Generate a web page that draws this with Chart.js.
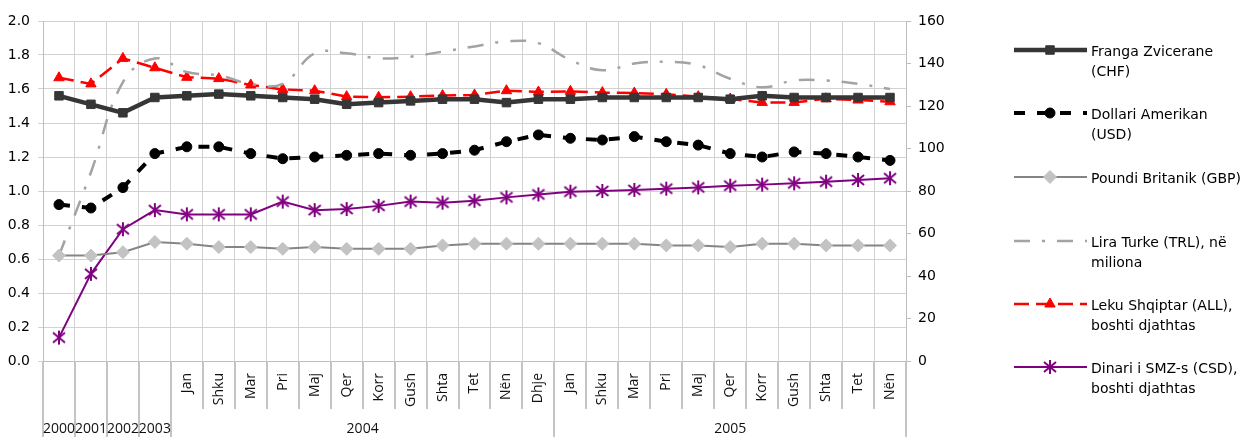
<!DOCTYPE html>
<html>
<head>
<meta charset="utf-8">
<script src="https://cdn.jsdelivr.net/npm/chart.js@4.4.1/dist/chart.umd.min.js"></script>
<style>
  html, body { margin: 0; background: #fff; }
  #wrap { width: 1253px; height: 437px; }
</style>
</head>
<body>
<div id="wrap"><canvas id="chart" width="1253" height="437"></canvas></div>
<script>
// categories: yearly averages 2000-2003, then monthly 2004 and 2005
const categories = ["2000", "2001", "2002", "2003",
  "Jan", "Shku", "Mar", "Pri", "Maj", "Qer", "Korr", "Gush", "Shta", "Tet", "Nën", "Dhje",
  "Jan", "Shku", "Mar", "Pri", "Maj", "Qer", "Korr", "Gush", "Shta", "Tet", "Nën"];
// [label, first category index, last category index]
const yearGroups = [["2000", 0, 0], ["2001", 1, 1], ["2002", 2, 2], ["2003", 3, 3], ["2004", 4, 15], ["2005", 16, 26]];

// left axis
const chf = [1.56, 1.51, 1.46, 1.55, 1.56, 1.57, 1.56, 1.55, 1.54, 1.51, 1.52, 1.53, 1.54, 1.54, 1.52, 1.54,
  1.54, 1.55, 1.55, 1.55, 1.55, 1.54, 1.56, 1.55, 1.55, 1.55, 1.55];
const usd = [0.92, 0.90, 1.02, 1.22, 1.26, 1.26, 1.22, 1.19, 1.20, 1.21, 1.22, 1.21, 1.22, 1.24, 1.29, 1.33,
  1.31, 1.30, 1.32, 1.29, 1.27, 1.22, 1.20, 1.23, 1.22, 1.20, 1.18];
const gbp = [0.62, 0.62, 0.64, 0.70, 0.69, 0.67, 0.67, 0.66, 0.67, 0.66, 0.66, 0.66, 0.68, 0.69, 0.69, 0.69,
  0.69, 0.69, 0.69, 0.68, 0.68, 0.67, 0.69, 0.69, 0.68, 0.68, 0.68];
const trl = [0.62, 1.11, 1.64, 1.78, 1.70, 1.68, 1.63, 1.63, 1.81, 1.81, 1.78, 1.79, 1.82, 1.85, 1.88, 1.87,
  1.77, 1.71, 1.75, 1.76, 1.74, 1.66, 1.61, 1.65, 1.65, 1.63, 1.60];
// right axis
const all = [133.3, 130.4, 142.4, 138.0, 133.5, 132.9, 129.9, 127.8, 127.2, 124.4, 124.1, 124.4, 124.9, 125.2, 127.2, 126.6,
  126.9, 126.3, 126.1, 125.5, 124.4, 123.3, 121.7, 121.7, 123.4, 122.8, 122.0];
const csd = [11, 41, 62, 71, 69, 69, 69, 75, 71, 71.5, 73, 75, 74.5, 75.4, 77, 78.4,
  79.7, 80, 80.5, 81.1, 81.7, 82.5, 83, 83.6, 84.4, 85.2, 86];

const legendLabels = [
  ["Franga Zvicerane", "(CHF)"],
  ["Dollari Amerikan", "(USD)"],
  ["Poundi Britanik (GBP)"],
  ["Lira Turke (TRL), në", "miliona"],
  ["Leku Shqiptar (ALL),", "boshti djathtas"],
  ["Dinari i SMZ-s (CSD),", "boshti djathtas"],
];

Chart.defaults.font.family = "'DejaVu Sans', Verdana, sans-serif";
Chart.defaults.font.size = 14;
Chart.defaults.color = "#000";

// excel-like asterisk marker
const makeStar = (color) => {
  const c = document.createElement("canvas");
  c.width = 16;
  c.height = 16;
  const g = c.getContext("2d");
  g.strokeStyle = color;
  g.lineWidth = 2;
  g.beginPath();
  g.moveTo(8, 1); g.lineTo(8, 15);
  g.moveTo(2, 3); g.lineTo(14, 13);
  g.moveTo(14, 3); g.lineTo(2, 13);
  g.stroke();
  return c;
};

/*
 * draws the two level category axis (months rotated, years below)
 * and the legend on the right.
 */
const decorations = {
  id: "decorations",
  afterDraw(chart) {
    const { ctx, chartArea, scales } = chart;
    const x = scales.x;
    const half = (x.getPixelForValue(1) - x.getPixelForValue(0)) / 2;
    const bottom = chartArea.bottom;
    const edge = (i) => (i < categories.length ? x.getPixelForValue(i) - half : x.getPixelForValue(categories.length - 1) + half);
    ctx.save();

    // separators below the axis
    const yearEdges = new Set([0]);
    yearGroups.forEach((g) => yearEdges.add(g[2] + 1));
    ctx.strokeStyle = "#c4c4c4";
    ctx.lineWidth = 2;
    for (let i = 0; i <= categories.length; i++) {
      const px = Math.round(edge(i));
      ctx.beginPath();
      ctx.moveTo(px, bottom);
      ctx.lineTo(px, yearEdges.has(i) ? chart.height : bottom + 48);
      ctx.stroke();
    }

    // month labels
    ctx.fillStyle = "#111";
    ctx.font = "14px 'Open Sans', sans-serif";
    ctx.textAlign = "right";
    ctx.textBaseline = "middle";
    yearGroups.forEach(([, first, last]) => {
      if (first === last) return;
      for (let i = first; i <= last; i++) {
        ctx.save();
        ctx.translate(x.getPixelForValue(i), bottom + 12);
        ctx.rotate(-Math.PI / 2);
        ctx.fillText(categories[i], 0, 0);
        ctx.restore();
      }
    });

    // year labels
    ctx.textAlign = "center";
    yearGroups.forEach(([label, first, last]) => {
      const cx = (edge(first) + edge(last + 1)) / 2;
      ctx.fillText(label, cx, bottom + 68);
    });

    // legend
    const rows = [50, 113, 177, 241, 304, 367];
    ctx.font = "14px 'DejaVu Sans', sans-serif";
    chart.data.datasets.forEach((ds, i) => {
      const y = rows[i];
      ctx.setLineDash(ds.borderDash || []);
      ctx.strokeStyle = ds.borderColor;
      ctx.lineWidth = ds.borderWidth;
      ctx.lineCap = "butt";
      ctx.beginPath();
      ctx.moveTo(1014, y);
      ctx.lineTo(1087, y);
      ctx.stroke();
      ctx.setLineDash([]);
      if (ds.pointRadius > 0 && Chart.helpers && Chart.helpers.drawPoint) {
        ctx.fillStyle = ds.pointBackgroundColor;
        ctx.strokeStyle = ds.pointBorderColor;
        ctx.lineWidth = ds.pointBorderWidth;
        Chart.helpers.drawPoint(ctx, {
          pointStyle: ds.pointStyle,
          radius: ds.pointRadius,
          borderWidth: ds.pointBorderWidth,
          rotation: 0,
        }, 1050, y);
      }
      ctx.fillStyle = "#000";
      ctx.textAlign = "left";
      legendLabels[i].forEach((line, k) => {
        ctx.fillText(line, 1091, y + 2 + k * 20.5);
      });
    });
    ctx.restore();
  },
};

new Chart(document.getElementById("chart"), {
  type: "line",
  data: {
    labels: categories,
    datasets: [
      {
        label: "CHF",
        data: chf,
        yAxisID: "y",
        borderColor: "#363636",
        borderWidth: 4.5,
        borderJoinStyle: "round",
        pointStyle: "rect",
        pointRadius: 6,
        pointBackgroundColor: "#363636",
        pointBorderColor: "#363636",
        pointBorderWidth: 1,
      },
      {
        label: "USD",
        data: usd,
        yAxisID: "y",
        borderColor: "#000",
        borderWidth: 4,
        borderDash: [11, 12],
        pointStyle: "circle",
        pointRadius: 5,
        pointBackgroundColor: "#000",
        pointBorderColor: "#000",
        pointBorderWidth: 1,
      },
      {
        label: "GBP",
        data: gbp,
        yAxisID: "y",
        borderColor: "#858585",
        borderWidth: 2,
        pointStyle: "rectRot",
        pointRadius: 6.5,
        pointBackgroundColor: "#c3c3c3",
        pointBorderColor: "#c3c3c3",
        pointBorderWidth: 1,
      },
      {
        label: "TRL",
        data: trl,
        yAxisID: "y",
        borderColor: "#a3a3a3",
        borderWidth: 2.5,
        borderDash: [16, 12, 3, 12],
        tension: 0.4,
        pointRadius: 0,
      },
      {
        label: "ALL",
        data: all,
        yAxisID: "y1",
        borderColor: "#ff0000",
        borderWidth: 2.5,
        borderDash: [15, 7],
        pointStyle: "triangle",
        pointRadius: 6,
        pointBackgroundColor: "#ff0000",
        pointBorderColor: "#ff0000",
        pointBorderWidth: 1,
      },
      {
        label: "CSD",
        data: csd,
        yAxisID: "y1",
        borderColor: "#800080",
        borderWidth: 2,
        pointStyle: makeStar("#800080"),
        pointRadius: 7,
        pointBackgroundColor: "#800080",
        pointBorderColor: "#800080",
        pointBorderWidth: 0,
      },
    ],
  },
  options: {
    responsive: false,
    animation: false,
    events: [],
    layout: { padding: { top: 21, left: 0, right: 0, bottom: 0 } },
    plugins: {
      legend: { display: false },
      tooltip: { enabled: false },
    },
    scales: {
      x: {
        type: "category",
        offset: true,
        grid: { offset: true, color: "#d2d2d2", drawTicks: false },
        border: { color: "#bdbdbd", width: 1 },
        ticks: { display: false },
        afterFit: (scale) => { scale.height = 76; },
      },
      y: {
        position: "left",
        min: 0,
        max: 2,
        ticks: { stepSize: 0.2, padding: 8, callback: (v) => v.toFixed(1) },
        grid: { color: "#d2d2d2", tickLength: 5 },
        border: { color: "#bdbdbd", width: 1 },
        afterFit: (scale) => { scale.width = 43; },
      },
      y1: {
        position: "right",
        min: 0,
        max: 160,
        ticks: { stepSize: 20, padding: 7 },
        grid: { drawOnChartArea: false, color: "#bdbdbd", tickLength: 5 },
        border: { color: "#bdbdbd", width: 1 },
        afterFit: (scale) => { scale.width = 347; },
      },
    },
  },
  plugins: [decorations],
});
</script>
</body>
</html>
